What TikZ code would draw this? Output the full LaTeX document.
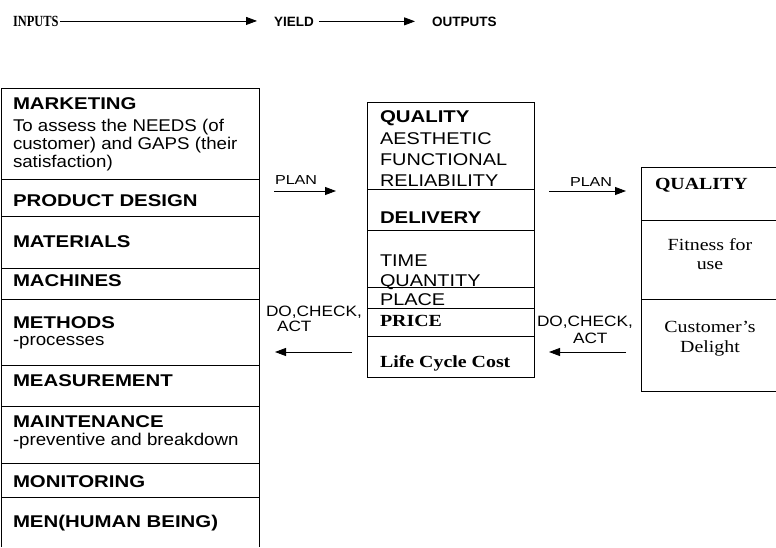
\documentclass[tikz,border=0pt]{standalone}
\usepackage{fontspec}
\usepackage{graphicx}
\usetikzlibrary{arrows.meta}
\newfontfamily\ssx[FakeStretch=1.17]{Liberation Sans}
\newfontfamily\ssxl[FakeStretch=1.1]{Liberation Sans}
\newfontfamily\ssxb[FakeStretch=1.2]{Liberation Sans}
\newfontfamily\rmx[FakeStretch=1.17]{Liberation Serif}
\newfontfamily\sstop{Liberation Sans}
\newfontfamily\rmtop[FakeStretch=0.8]{Liberation Serif}
\newfontfamily\sslab[FakeStretch=1.15]{Liberation Sans}
\newfontfamily\ssplan[FakeStretch=1.24]{Liberation Sans}
\begin{document}
\begin{tikzpicture}[x=1pt,y=-1pt,
  every node/.style={inner sep=0pt, outer sep=0pt},
  frame/.style={draw=black, line width=0.8pt},
  arr/.style={-{Triangle[length=11pt,width=8pt]}, line width=0.8pt},
  tx/.style={anchor=base west},
  sfn/.style={tx, font=\ssx\fontsize{17}{17}\selectfont},
  sfl/.style={tx, font=\ssxl\fontsize{17}{17}\selectfont},
  sfb/.style={tx, font=\ssxb\bfseries\fontsize{17}{17}\selectfont},
  rfb/.style={tx, font=\rmx\bfseries\fontsize{17}{17}\selectfont},
  rfc/.style={anchor=base, font=\rmx\fontsize{17}{17}\selectfont},
  lab/.style={tx, font=\sslab\fontsize{15}{15}\selectfont},
  plan/.style={tx, font=\ssplan\fontsize{13}{13}\selectfont}
]
\fill[white] (0,0) rectangle (776,547);
\useasboundingbox (0,0) rectangle (776,547);

% top row
\node[tx, font=\rmtop\bfseries\fontsize{15.5}{15.5}\selectfont] (inputs) at (13,26) {INPUTS};
\node[tx, font=\sstop\bfseries\fontsize{13.5}{13.5}\selectfont] (yield) at (274,26) {YIELD};
\node[tx, font=\sstop\bfseries\fontsize{13.5}{13.5}\selectfont] (outputs) at (432,26) {OUTPUTS};
\draw[arr, shorten <=2pt, shorten >=17pt] (inputs.east) -- (inputs.east -| yield.west);
\draw[arr, shorten <=5pt, shorten >=17pt] (yield.east) -- (yield.east -| outputs.west);

% left box
\draw[frame] (1,547) -- (1,88) -- (259,88) -- (259,547);
\foreach \yy in {179,216,268,299,365,406,463,497}
  \draw[frame] (1,\yy) -- (259,\yy);

\node[sfb] (mkt) at (13,109) {MARKETING};
\node[sfl] (mkt1) at (13,131) {To assess the NEEDS (of};
\node[sfl] (mkt2) at (13,149) {customer) and GAPS (their};
\node[sfl] (mkt3) at (13,167) {satisfaction)};
\node[sfb] (pd) at (13,206) {PRODUCT DESIGN};
\node[sfb] (mat) at (13,247) {MATERIALS};
\node[sfb] (mach) at (13,286) {MACHINES};
\node[sfb] (meth) at (13,328) {METHODS};
\node[sfl] (meth1) at (13,345) {-processes};
\node[sfb] (meas) at (13,386) {MEASUREMENT};
\node[sfb] (maint) at (13,427) {MAINTENANCE};
\node[sfl] (maint1) at (13,445) {-preventive and breakdown};
\node[sfb] (mon) at (13,487) {MONITORING};
\node[sfb] (men) at (13,527) {MEN(HUMAN BEING)};

% middle box
\draw[frame] (367,102) rectangle (534,377);
\foreach \yy in {189,230,287,308,336}
  \draw[frame] (367,\yy) -- (534,\yy);

\node[sfb] (q) at (380,122) {QUALITY};
\node[sfn] (q1) at (380,144) {AESTHETIC};
\node[sfn] (q2) at (380,165) {FUNCTIONAL};
\node[sfn] (q3) at (380,186) {RELIABILITY};
\node[sfb] (del) at (380,223) {DELIVERY};
\node[sfn] (d1) at (380,266) {TIME};
\node[sfn] (d2) at (380,286) {QUANTITY};
\node[sfn] (d3) at (380,305) {PLACE};
\node[rfb] (price) at (380,326) {PRICE};
\node[rfb] (lcc) at (380,367) {Life Cycle Cost};

% right box
\draw[frame] (776,167) -- (641,167) -- (641,391) -- (776,391);
\foreach \yy in {220,299}
  \draw[frame] (641,\yy) -- (776,\yy);
\node[rfb] (oq) at (655,189) {QUALITY};
\node[rfc] (fit1) at (710,250) {Fitness for};
\node[rfc] (fit2) at (710,269) {use};
\node[rfc] (cd1) at (710,332) {Customer’s};
\node[rfc] (cd2) at (710,352) {Delight};

% middle arrows and labels
\coordinate (p1s) at (274,191);
\coordinate (p1e) at (336,191);
\draw[arr] (p1s) -- (p1e);
\node[plan] (plan1) at (275,184) {PLAN};

\coordinate (p2s) at (549,191);
\coordinate (p2e) at (626,191);
\draw[arr] (p2s) -- (p2e);
\node[plan] (plan2) at (570,186) {PLAN};

\coordinate (d1s) at (352,352);
\coordinate (d1e) at (275,352);
\draw[arr] (d1s) -- (d1e);
\node[lab] (dca1) at (266,316) {DO,CHECK,};
\node[lab] (act1) at (277,331) {ACT};

\coordinate (d2s) at (626,352);
\coordinate (d2e) at (549,352);
\draw[arr] (d2s) -- (d2e);
\node[lab] (dca2) at (537,326) {DO,CHECK,};
\node[lab] (act2) at (573,343) {ACT};
\end{tikzpicture}
\end{document}
